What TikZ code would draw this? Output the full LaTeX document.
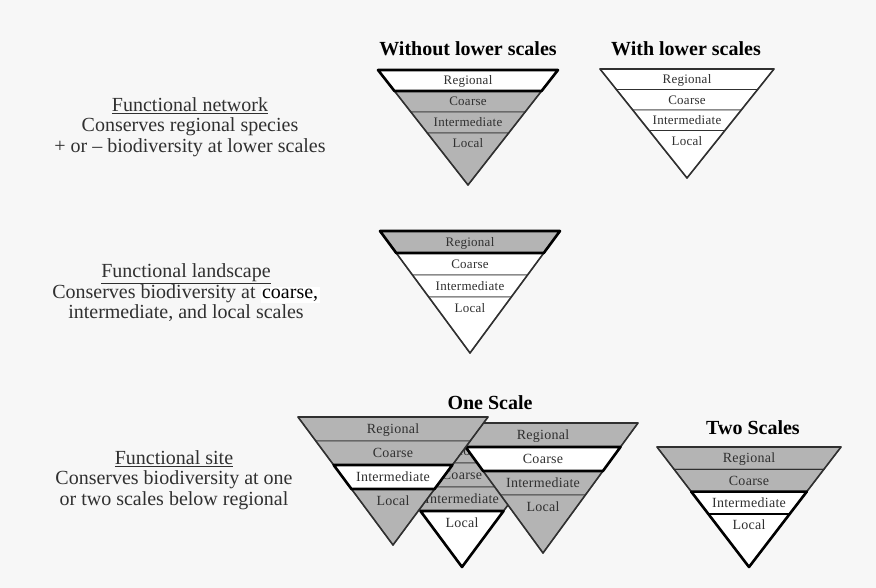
\documentclass[tikz,border=0pt]{standalone}
\usepackage{fontspec}
\setmainfont{Liberation Serif}
\newfontfamily\lblfont[LetterSpace=2]{Liberation Serif}
\usepackage{tikz}

\definecolor{paper}{RGB}{247,247,247}
\definecolor{pyrgray}{RGB}{180,180,180}
\definecolor{inkgray}{RGB}{48,48,48}

\tikzset{
  band/.style={draw=inkgray, line width=0.9pt},
  edge/.style={draw=inkgray, line width=1.6pt, line join=round},
  hl/.style={draw=black, line width=2.6pt, line join=round},
  lbl/.style={anchor=base, inner sep=0pt, text=inkgray},
  desc/.style={align=center, inner sep=0pt, text=inkgray, font=\fontsize{20}{20.5}\selectfont},
  title/.style={inner sep=0pt, font=\bfseries\fontsize{20}{20}\selectfont}
}

% #1 name, #2 centre x, #3 top y, #4 half width, #5 height, #6 band height, #7 fills, #8 label size
\newcommand{\scalepyr}[8]{%
  \coordinate (#1-a) at (#2,#3+#5);
  \foreach \k in {0,...,3}{
    \coordinate (#1-l\k) at ({#2-#4*(1-\k*#6/#5)},{#3+\k*#6});
    \coordinate (#1-r\k) at ({#2+#4*(1-\k*#6/#5)},{#3+\k*#6});
  }
  \foreach \fc [count=\k from 0] in {#7}{
    \ifnum\k<3
      \pgfmathtruncatemacro\nx{\k+1}
      \filldraw[band,fill=\fc] (#1-l\k) -- (#1-r\k) -- (#1-r\nx) -- (#1-l\nx) -- cycle;
    \else
      \filldraw[band,fill=\fc] (#1-l3) -- (#1-r3) -- (#1-a) -- cycle;
    \fi
  }
  \draw[edge] (#1-l0) -- (#1-r0) -- (#1-a) -- cycle;
  \foreach \lab [count=\k from 0] in {Regional,Coarse,Intermediate,Local}
    \node[lbl,font=\lblfont\fontsize{#8}{#8}\selectfont] (#1-t\k) at (#2,{#3+(\k+0.5)*#6+0.33*#8}) {\lab};
}

\begin{document}
\begin{tikzpicture}[x=1pt,y=-1pt]
  \useasboundingbox (0,0) rectangle (876,588);
  \fill[paper] (0,0) rectangle (876,588);

  \node[desc] (netdesc) at (190,127) {\underline{Functional network}\\Conserves regional species\\+ or -- biodiversity at lower scales};
  \node[desc] (landdesc) at (186,293) {\underline{Functional landscape}\\Conserves biodiversity at {\setlength{\fboxsep}{1.5pt}\smash{\colorbox{white}{\textcolor{black}{coarse,}}}}\\intermediate, and local scales};
  \node[desc] (sitedesc) at (174,480) {\underline{Functional site}\\Conserves biodiversity at one\\or two scales below regional};

  \node[title] (without) at (468,49) {Without lower scales};
  \node[title] (with) at (686,49) {With lower scales};
  \node[title] (onescale) at (490,403) {One Scale};
  \node[title] (twoscales) at (753,428) {Two Scales};

  \scalepyr{wo}{468}{70}{90}{115}{21}{white,pyrgray,pyrgray,pyrgray}{13}
  \draw[hl] (wo-l0) -- (wo-r0) -- (wo-r1) -- (wo-l1) -- cycle;

  \scalepyr{wl}{687}{69}{87}{109}{20.5}{white,white,white,white}{13}

  \scalepyr{fl}{470}{231}{90}{122}{22}{pyrgray,white,white,white}{13}
  \draw[hl] (fl-l0) -- (fl-r0) -- (fl-r1) -- (fl-l1) -- cycle;

  \scalepyr{om}{462}{439}{95}{128}{24}{pyrgray,pyrgray,pyrgray,white}{14}
  \draw[hl] (om-l3) -- (om-r3) -- (om-a) -- cycle;

  \scalepyr{or}{543}{423}{95}{130}{24}{pyrgray,white,pyrgray,pyrgray}{14}
  \draw[hl] (or-l1) -- (or-r1) -- (or-r2) -- (or-l2) -- cycle;

  \scalepyr{ol}{393}{417}{95}{128}{24}{pyrgray,pyrgray,white,pyrgray}{14}
  \draw[hl] (ol-l2) -- (ol-r2) -- (ol-r3) -- (ol-l3) -- cycle;

  \scalepyr{ts}{749}{447}{92}{120}{22.3}{pyrgray,pyrgray,white,white}{14}
  \draw[hl] (ts-l2) -- (ts-r2) -- (ts-a) -- cycle;
  \draw[hl] (ts-l3) -- (ts-r3);
\end{tikzpicture}
\end{document}
